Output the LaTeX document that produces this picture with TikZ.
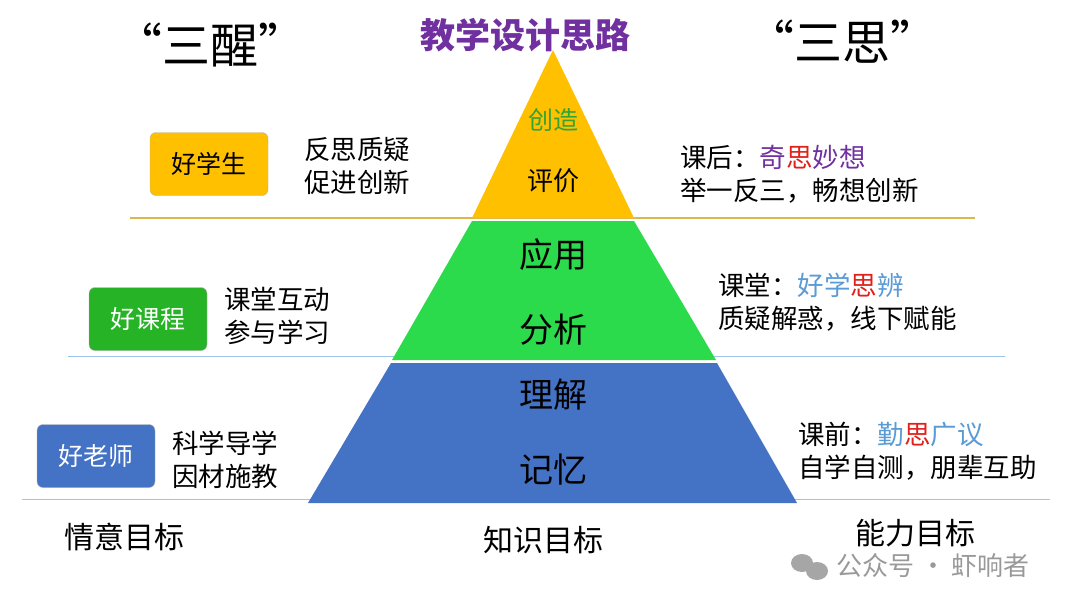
\documentclass[tikz,border=0pt]{standalone}
\usepackage{fontspec}
\setmainfont{Noto Sans CJK SC}
\begin{document}
\begin{tikzpicture}[x=1pt,y=-1pt,
  t/.style={inner sep=0pt,font=\fontsize{26.5}{33}\selectfont,align=left,anchor=west},
  lab/.style={inner sep=0pt,font=\fontsize{30}{34}\selectfont},
  pt/.style={inner sep=0pt,font=\fontsize{34}{36}\selectfont},
  bx/.style={rounded corners=6pt,draw=gray!60,minimum width=118pt,minimum height=63pt,font=\fontsize{25}{28}\selectfont}]
\useasboundingbox (0,0) rectangle (1080,608);
\definecolor{yel}{HTML}{FFC000}\definecolor{grn}{HTML}{2BDB4B}\definecolor{blu}{HTML}{4472C4}
\definecolor{pur}{HTML}{7030A0}\definecolor{stb}{HTML}{5B9BD5}\definecolor{red1}{HTML}{E0201A}
\definecolor{lb}{HTML}{9DC3E6}
% lines
\draw[line width=1.2pt,draw=yel!80!black!70] (130,218) -- (975,218);
\draw[line width=1pt,draw=lb] (68,356) -- (1005,356);
\draw[line width=1pt,draw=lb] (22,499) -- (1050,499);
% pyramid
\fill[yel] (553,50) -- (634,218) -- (472,218) -- cycle;
\fill[grn] (472,221) -- (634,221) -- (716,360) -- (392,360) -- cycle;
\fill[blu] (391,363) -- (717,363) -- (797,503) -- (308,503) -- cycle;
\node[pt,font=\fontsize{25}{28}\selectfont,text=green!55!black!80] (c1) at (553,120) {创造};
\node[pt,font=\fontsize{26}{28}\selectfont] (c2) at (553,181) {评价};
\node[pt] (c3) at (553,255) {应用};
\node[pt] (c4) at (553,330) {分析};
\node[pt] (c5) at (553,395) {理解};
\node[pt] (c6) at (553,470) {记忆};
% titles
\node[inner sep=0pt,font=\fontsize{48}{52}\selectfont] (s1) at (210,45) {“三醒”};
\node[inner sep=0pt,font=\fontsize{35}{38}\selectfont\bfseries,text=pur] (s0) at (525,35) {教学设计思路};
\node[inner sep=0pt,font=\fontsize{48}{52}\selectfont] (s2) at (842,42) {“三思”};
% boxes
\node[bx,fill=yel] (b1) at (209,164) {好学生};
\node[bx,fill=green!65!black!85,text=white] (b2) at (148,319) {好课程};
\node[bx,fill=blu,text=white] (b3) at (96,456) {好老师};
% left texts
\node[t] (l1) at (304,166) {反思质疑\\促进创新};
\node[t] (l2) at (224,316) {课堂互动\\参与学习};
\node[t] (l3) at (172,460) {科学导学\\因材施教};
% right texts
\node[t] (r1) at (680,174) {课后：\textcolor{pur}{奇}\textcolor{red1}{思}\textcolor{pur}{妙想}\\举一反三，畅想创新};
\node[t] (r2) at (718,302) {课堂：\textcolor{stb}{好学}\textcolor{red1}{思}\textcolor{stb}{辨}\\质疑解惑，线下赋能};
\node[t] (r3) at (798,451) {课前：\textcolor{stb}{勤}\textcolor{red1}{思}\textcolor{stb}{广议}\\自学自测，朋辈互助};
% bottom labels
\node[lab] (g1) at (124,537) {情意目标};
\node[lab] (g2) at (543,540) {知识目标};
\node[lab] (g3) at (915,533) {能力目标};
% watermark
\fill[gray!70] (802,563) ellipse (11 and 9);
\fill[gray!70] (817,571) ellipse (11 and 9);
\node[inner sep=0pt,font=\fontsize{26}{28}\selectfont,text=gray!80,anchor=west] (wm) at (836,566) {公众号 · 虾响者};
\end{tikzpicture}
\end{document}
